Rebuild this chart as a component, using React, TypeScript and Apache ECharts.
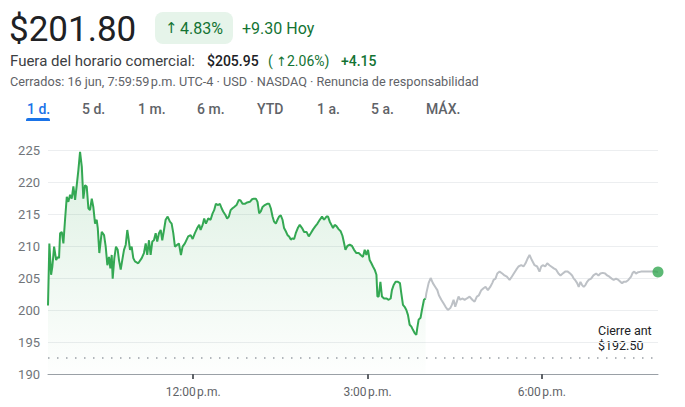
import React, { useEffect, useRef } from "react";
import * as echarts from "echarts";

// [minutes after 9:30 a.m., price]
const regularSession: [number, number][] = [
  [0, 200.7], [1.4, 210.4], [3.2, 205.5], [4.5, 206.8], [6.3, 209.9], [8.4, 207.8], [10.1, 208.3], [11.4, 208.1],
  [12.5, 212], [14.2, 212.2], [15.9, 210.4], [17.6, 214.1], [19.4, 217.7], [21, 216.9], [22.8, 218], [24.5, 217.4],
  [26.2, 219.3], [28, 217.2], [29.7, 219.5], [31.4, 221.9], [33.1, 224.7], [34.9, 222.4], [36.5, 217.4], [38.3, 219.5],
  [40, 219.3], [41.7, 215.9], [43.4, 215.6], [45.2, 217.4], [46.8, 216.1], [48.6, 213.5], [50.3, 214.1], [51.4, 212.8],
  [53, 208.9], [55.5, 212.2], [57.9, 211.7], [59.6, 209.9], [61.3, 207], [63, 208.3], [64.4, 206.5], [65.8, 208.6],
  [66.8, 204.9], [68.5, 208.1], [70.2, 209.9], [72, 209.4], [73.3, 207.8], [75.1, 206.3], [76.7, 207.8], [78.5, 209.4],
  [80.3, 210.2], [81.9, 212.5], [82.9, 211.5], [84.7, 209.4], [86.4, 209.9], [88.1, 208.1], [89.8, 207.6], [93.2, 207.3],
  [96.8, 208.1], [99.1, 208.9], [100.9, 210.4], [102.5, 208.6], [104.3, 210.9], [106, 208.6], [107.7, 210.7], [109.4, 210.9],
  [111.2, 212], [112.8, 210.7], [114.6, 212], [116.4, 212.5], [118, 210.9], [119.8, 212.5], [121.5, 214.1], [123.6, 214.6],
  [125.9, 213.8], [127.7, 213.5], [129.4, 212], [131.1, 209.9], [133.5, 210.2], [135.2, 210.4], [137.3, 208.6], [139, 209.9],
  [141.4, 210.4], [144.8, 211.5], [147.3, 211.7], [149.4, 211.1], [151.7, 212], [154.1, 212.8], [156.2, 213.3], [157.6, 212.5],
  [159.7, 213.3], [161.3, 214.3], [163.1, 213.5], [165.5, 214.3], [167.9, 214.1], [170, 215.1], [171.6, 215.6], [173.4, 216.6],
  [175.8, 216.4], [177.5, 216.6], [179.3, 215.9], [180.9, 215.4], [183.4, 214.8], [185, 214.3], [186.8, 214.6], [188.6, 215.6],
  [190.6, 215.9], [192.3, 216.1], [194.7, 216.4], [197.1, 217.2], [198.9, 217.1], [200.9, 216.6], [203.3, 216.6], [205.7, 216.8],
  [208.5, 216.9], [210.8, 217.3], [212.6, 217.4], [214.7, 217.4], [216.4, 216.9], [218.1, 215.1], [219.8, 215.4], [221.6, 216.1],
  [223.9, 216.4], [226.3, 216.6], [228.4, 216.6], [230.1, 215.9], [231.9, 214.6], [233.5, 213.8], [235.3, 213.5], [237, 214.1],
  [238.7, 214.6], [240.4, 214.8], [242.2, 214.1], [243.8, 212.8], [245.6, 212.3], [247.4, 211.7], [249, 211.5], [250.8, 211],
  [252.5, 211.2], [254.2, 211.1], [255.9, 212], [258.3, 212.9], [260, 213.3], [262.4, 212.8], [264.5, 212.2], [267, 212.2],
  [269.3, 211.5], [271.4, 212], [273.8, 212.6], [276.2, 213.1], [278.3, 213.5], [280.7, 214.1], [283, 214.6], [285.1, 214.1],
  [287.6, 214.6], [289.2, 214.6], [291, 213.8], [292.7, 213.3], [294.4, 212.8], [296.1, 213.3], [297.9, 213.1], [300.3, 212.6],
  [302.3, 212.3], [304.1, 211.6], [305.7, 210.5], [307.2, 209.4], [309.2, 210], [311.6, 210.2], [314, 210], [316.1, 209.4],
  [318.5, 208.9], [320.9, 208.9], [323, 208.6], [325.3, 208.3], [327.1, 209.4], [328.8, 208.6], [330.5, 209.4], [332.2, 207.8],
  [334, 207.3], [335.6, 206.8], [337.4, 206.3], [339.2, 205.5], [340.2, 202.1], [341.5, 202.1], [343.3, 204.4], [344.9, 202.1],
  [347, 201.8], [349.5, 201.8], [351.8, 201.6], [353.9, 201.8], [355.2, 203.1], [357, 203.9], [359, 204.4], [361.4, 204.4],
  [363.5, 204.2], [364.9, 202.6], [366.6, 200.8], [368.3, 200.5], [370.1, 200], [371.8, 199.2], [373.5, 197.7], [375.3, 197.4],
  [376.9, 196.9], [378.7, 196.4], [380.4, 196.1], [381.4, 197.2], [382.8, 198.5], [384.8, 198.8], [386.2, 200], [388.3, 201.6],
  [390, 201.8],
];

const afterHours: [number, number][] = [
  [390, 201.8], [390.7, 202.6], [393.1, 204.2], [395.2, 205], [397.5, 204.2], [400, 203.6], [402.1, 203.1], [403.7, 202.3],
  [406.2, 201.6], [408.6, 201], [410.6, 200.5], [413, 200], [415.5, 200.3], [417.1, 200.8], [418.9, 201.6], [420.6, 200.5],
  [422.3, 201.3], [424, 202.1], [425.8, 201.6], [427.9, 201.8], [430.3, 201.6], [432.6, 201.8], [435.4, 202.1], [438.2, 201.6],
  [440.6, 201.3], [442.9, 202.1], [445, 202.3], [447.5, 203.1], [449.8, 203.4], [451.9, 203.6], [454.3, 203.1], [456.7, 203.6],
  [458.8, 204.2], [460.2, 204.7], [462.2, 204.9], [464, 205.7], [466.4, 206], [469.2, 205.7], [471.5, 205.4], [473.9, 205.2],
  [476.7, 204.7], [479, 205.2], [481.1, 205.7], [483.6, 206.3], [485.9, 206.8], [488.7, 207], [491.1, 206.8], [493.2, 207.3],
  [495.5, 208.1], [497.3, 208.6], [499.7, 207.8], [502.5, 207], [505.2, 206.8], [507.6, 206], [509.4, 206.8], [511, 207],
  [513.5, 206.8], [515.6, 207.3], [517.9, 207], [519.7, 206.8], [522.4, 206.5], [524.8, 206.3], [527.2, 205.7], [529.3, 205.4],
  [531.6, 205.7], [534.1, 206], [536.8, 206], [539.3, 205.7], [541.3, 205.4], [543, 204.9], [544.4, 204.7], [546.5, 204.2],
  [548.1, 203.6], [549.9, 204.4], [551.6, 203.9], [553.3, 203.6], [555, 203.9], [556.8, 204.4], [558.4, 204.7], [560.9, 204.9],
  [563.3, 205.4], [566.1, 205.7], [568.5, 205.4], [570.5, 205.7], [572.9, 205.8], [575.4, 205.7], [577.5, 205.4], [579.8, 205.2],
  [582.2, 204.9], [584.2, 204.7], [586.7, 204.9], [589.1, 204.7], [591.2, 204.4], [592.9, 204.2], [594.6, 204.4], [597, 204.4],
  [599.4, 204.7], [602.2, 205.2], [603.8, 205.8], [605.5, 206], [607.3, 205.7], [609.6, 205.9], [612.4, 206], [615.8, 206],
  [621, 206], [626.9, 206], [630, 205.95],
];

const xTickMinutes = [150, 330, 510];
const xTickLabels = ["12:00\u202fp.m.", "3:00\u202fp.m.", "6:00\u202fp.m."];
const previousClose = 192.5;
const rangeTabs = ["1 d.", "5 d.", "1 m.", "6 m.", "YTD", "1 a.", "5 a.", "MÁX."];

const GREEN = "#34a853";
const DARK_GREEN = "#137333";
const FONT = "Roboto, Arial, sans-serif";
const ARROW_FONT = "'DejaVu Sans', sans-serif";

function txt(text: string, x: number, y: number, size: number, fill: string, weight = 400, family = FONT) {
  return {
    type: "text",
    x,
    y,
    silent: true,
    style: { text, fill, font: `${weight} ${size}px ${family}`, verticalAlign: "middle", align: "left" },
  };
}

export default function App() {
  const ref = useRef<HTMLDivElement>(null);
  useEffect(() => {
    const chart = echarts.init(ref.current!, null, { renderer: "svg" });
    const tabX = [27, 82, 138, 197, 257, 317, 371, 426];
    const lastPoint = afterHours[afterHours.length - 1];
    chart.setOption({
      animation: false,
      backgroundColor: "#ffffff",
      textStyle: { fontFamily: FONT },
      grid: { left: 48, right: 27, top: 150, bottom: 33 },
      xAxis: {
        type: "value",
        min: 0,
        max: 630,
        splitLine: { show: false },
        axisLine: { show: true, lineStyle: { color: "#9aa0a6", width: 1 } },
        axisTick: { show: true, customValues: xTickMinutes, length: 5, lineStyle: { color: "#5f6368", width: 2 } },
        axisLabel: {
          customValues: xTickMinutes,
          margin: 12,
          color: "#5f6368",
          fontSize: 12,
          fontFamily: FONT,
          formatter: (v: number) => {
            const i = xTickMinutes.indexOf(v);
            return i >= 0 ? xTickLabels[i] : "";
          },
        },
      },
      yAxis: {
        type: "value",
        min: 190,
        max: 225,
        interval: 5,
        axisLine: { show: false },
        axisTick: { show: false },
        axisLabel: { color: "#70757a", fontSize: 13, margin: 8, fontFamily: FONT },
        splitLine: { lineStyle: { color: "#eceef0", width: 1 } },
      },
      series: [
        {
          type: "line",
          data: regularSession,
          showSymbol: false,
          symbol: "none",
          lineStyle: { color: GREEN, width: 2 },
          areaStyle: {
            origin: "start",
            color: new echarts.graphic.LinearGradient(0, 0, 0, 1, [
              { offset: 0, color: "rgba(52,168,83,0.24)" },
              { offset: 1, color: "rgba(52,168,83,0.01)" },
            ]),
          },
          z: 3,
          markLine: {
            silent: true,
            symbol: "none",
            label: { show: false },
            lineStyle: { color: "#9aa0a6", width: 1.5, type: [1.5, 7.5] },
            data: [{ yAxis: previousClose }],
          },
        },
        {
          type: "line",
          data: afterHours,
          showSymbol: false,
          symbol: "none",
          lineStyle: { color: "#bdc1c6", width: 2 },
          z: 2,
        },
        {
          type: "scatter",
          data: [lastPoint],
          symbolSize: 11,
          itemStyle: { color: GREEN },
          z: 5,
        },
      ],
      graphic: [
        txt("$201.80", 9, 29, 35, "#202124"),
        { type: "rect", shape: { x: 155, y: 12, width: 78, height: 32, r: 8 }, style: { fill: "#e6f4ea" }, silent: true },
        txt("↑", 165, 28, 15, DARK_GREEN, 400, ARROW_FONT),
        txt("4.83%", 180, 28, 16, DARK_GREEN),
        txt("+9.30 Hoy", 242, 28, 16, DARK_GREEN),
        txt("Fuera del horario comercial:", 10, 61, 15, "#3c4043"),
        txt("$205.95", 207, 61, 14, "#202124", 500),
        txt("(", 268, 61, 14, DARK_GREEN),
        txt("↑", 276, 61, 13, DARK_GREEN, 400, ARROW_FONT),
        txt("2.06%)", 287, 61, 14, DARK_GREEN),
        txt("+4.15", 341, 61, 14, DARK_GREEN, 500),
        txt("Cerrados: 16 jun, 7:59:59\u202fp.m. UTC-4 · USD · NASDAQ · Renuncia de responsabilidad", 10, 81, 12.7, "#5f6368"),
        ...rangeTabs.map((t, i) => txt(t, tabX[i], 109, 14, i === 0 ? "#1a73e8" : "#5f6368", 500)),
        { type: "rect", shape: { x: 26, y: 118, width: 24, height: 3, r: [2, 2, 0, 0] }, style: { fill: "#1a73e8" }, silent: true },
        txt("Cierre ant", 598, 330, 12.5, "#202124"),
        txt(`$${previousClose.toFixed(2)}`, 598, 345.5, 12.5, "#202124"),
      ],
    });
    return () => chart.dispose();
  }, []);
  return (
    <div
      ref={ref}
      style={{ position: "absolute", left: 0, top: 0, width: 685, height: 407, background: "#fff" }}
    />
  );
}
